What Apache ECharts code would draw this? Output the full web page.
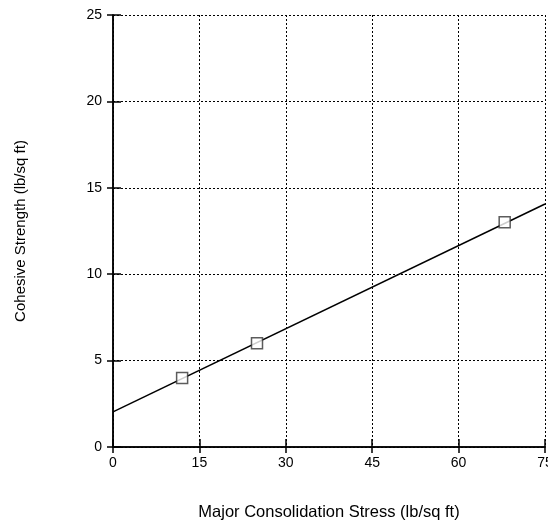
<!DOCTYPE html>
<html><head><meta charset="utf-8">
<script src="https://cdn.jsdelivr.net/npm/echarts@6/dist/echarts.min.js"></script>
<style>html,body{margin:0;padding:0;background:#fff}#c{width:548px;height:523px}</style>
</head><body><div id="c"></div>
<script>
const pointsX = [12, 25, 68];
const pointsY = [4, 6, 13];
const fitLineX = [0, 75];
const fitLineY = [2.03, 14.06];
const xTicks = [0, 15, 30, 45, 60, 75];
const yTicks = [0, 5, 10, 15, 20, 25];

const chart = echarts.init(document.getElementById('c'), null, {renderer: 'canvas'});
const font = 'Liberation Sans, Arial, sans-serif';
const axisCommon = {
  axisLine: {show: true, onZero: false, lineStyle: {color: '#000', width: 1.5}},
  axisTick: {show: true, inside: true, length: 8, lineStyle: {color: '#000', width: 1.5}},
  splitLine: {show: true, lineStyle: {color: '#000', type: [2, 2], width: 1}},
};
chart.setOption({
  animation: false,
  backgroundColor: '#fff',
  grid: {left: 113, right: 3, top: 15, bottom: 76, containLabel: false, outerBoundsMode: 'none'},
  xAxis: [{
    type: 'value', min: 0, max: 75, interval: 15, position: 'bottom',
    ...axisCommon,
    axisLabel: {color: '#000', fontFamily: font, fontSize: 14, margin: 9, formatter: v => xTicks.includes(v) ? String(v) : ''},
    name: 'Major Consolidation Stress (lb/sq ft)', nameLocation: 'middle', nameGap: 57,
    nameTextStyle: {color: '#000', fontFamily: font, fontSize: 16.5}
  }, {
    type: 'value', min: 0, max: 75, interval: 15, position: 'top',
    axisLine: {show: true, lineStyle: {color: '#000', width: 1.5}},
    axisTick: {show: true, inside: true, length: 6, lineStyle: {color: '#000', width: 1.5}},
    axisLabel: {show: false}, splitLine: {show: false}
  }],
  yAxis: [{
    type: 'value', min: 0, max: 25, interval: 5, position: 'left',
    ...axisCommon,
    axisLabel: {color: '#000', fontFamily: font, fontSize: 14, margin: 11, formatter: v => yTicks.includes(v) ? String(v) : ''},
    name: 'Cohesive Strength (lb/sq ft)', nameLocation: 'middle', nameGap: 85,
    nameTextStyle: {color: '#000', fontFamily: font, fontSize: 15}
  }, {
    type: 'value', min: 0, max: 25, interval: 5, position: 'right',
    axisLine: {show: true, lineStyle: {color: '#000', width: 1.5}},
    axisTick: {show: true, inside: true, length: 6, lineStyle: {color: '#000', width: 1.5}},
    axisLabel: {show: false}, splitLine: {show: false}
  }],
  series: [{
    type: 'line', xAxisIndex: 0, yAxisIndex: 0,
    data: fitLineX.map((x, i) => [x, fitLineY[i]]),
    showSymbol: false, lineStyle: {color: '#000', width: 1.5}, z: 3
  }, {
    type: 'scatter', xAxisIndex: 0, yAxisIndex: 0,
    data: pointsX.map((x, i) => [x, pointsY[i]]),
    symbol: 'rect', symbolSize: 11,
    itemStyle: {color: '#fff', borderColor: '#333', borderWidth: 1.5}, z: 5
  }]
});
</script></body></html>
